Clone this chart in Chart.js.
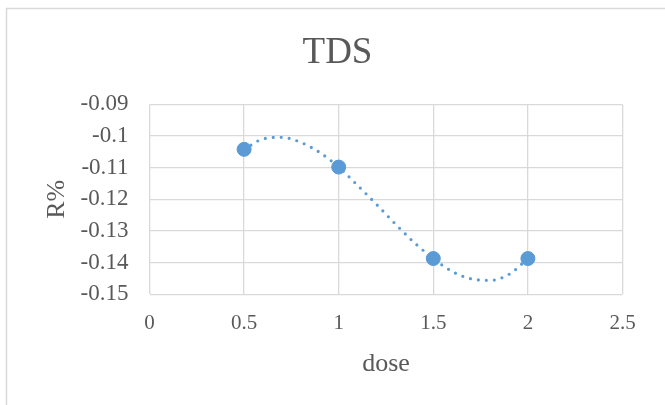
<!DOCTYPE html>
<html>
<head>
<meta charset="utf-8">
<script src="https://cdn.jsdelivr.net/npm/chart.js@4/dist/chart.umd.min.js"></script>
<style>
  html, body { margin: 0; padding: 0; background: #fff; }
  canvas { display: block; }
</style>
</head>
<body>
<canvas id="chart" width="665" height="405"></canvas>
<script>
// measured points
const doseValues = [0.5, 1, 1.5, 2];
const rValues = [-0.1042, -0.1098, -0.1387, -0.1387];

// dotted trend curve, read along its path
const trendDose = [0.5, 0.6, 0.7, 0.8, 0.9, 1.0, 1.1, 1.2, 1.3, 1.4, 1.5, 1.6, 1.7, 1.8, 1.9, 2.0];
const trendR = [-0.1042, -0.1009, -0.1004, -0.1020, -0.1052, -0.1098, -0.1156, -0.1216,
                -0.1278, -0.1337, -0.1387, -0.1428, -0.1451, -0.1456, -0.1437, -0.1387];

// axis ticks
const xTicks = [0, 0.5, 1, 1.5, 2, 2.5];
const yTicks = [-0.15, -0.14, -0.13, -0.12, -0.11, -0.1, -0.09];

const textColor = "#595959";
const gridColor = "#d9d9d9";
const blue = "#5b9bd5";
const serif = "'Liberation Serif', 'Times New Roman', serif";

// light frame around the whole chart
const framePlugin = {
  id: "frame",
  beforeDraw(chart) {
    const ctx = chart.ctx;
    ctx.save();
    ctx.fillStyle = "#fff";
    ctx.fillRect(0, 0, chart.width, chart.height);
    ctx.strokeStyle = gridColor;
    ctx.lineWidth = 1.5;
    ctx.beginPath();
    ctx.moveTo(6.5, chart.height + 2);
    ctx.lineTo(6.5, 8.5);
    ctx.lineTo(chart.width + 2, 8.5);
    ctx.stroke();
    ctx.restore();
  }
};

const chart = new Chart(document.getElementById("chart"), {
  type: "scatter",
  data: {
    datasets: [
      {
        label: "R%",
        data: doseValues.map((x, i) => ({ x: x, y: rValues[i] })),
        backgroundColor: blue,
        borderColor: blue,
        pointRadius: 7,
        pointHoverRadius: 7,
        order: 1
      },
      {
        label: "trend",
        data: trendDose.map((x, i) => ({ x: x, y: trendR[i] })),
        showLine: true,
        pointRadius: 0,
        borderColor: blue,
        borderWidth: 3.2,
        borderCapStyle: "round",
        borderDash: [0, 8],
        cubicInterpolationMode: "monotone",
        order: 2
      }
    ]
  },
  options: {
    responsive: false,
    animation: false,
    layout: { padding: { left: 10, right: 0, top: 0, bottom: 0 } },
    plugins: {
      legend: { display: false },
      tooltip: { enabled: false },
      title: {
        display: true,
        text: "TDS",
        color: textColor,
        font: { family: serif, size: 37, weight: "normal" },
        padding: { top: 31, bottom: 29 }
      }
    },
    scales: {
      x: {
        type: "linear",
        min: 0,
        max: 2.5,
        afterBuildTicks: s => { s.ticks = xTicks.map(v => ({ value: v })); },
        afterFit: s => { s.height = 110.7; },
        grid: { color: gridColor, lineWidth: 1.3, drawTicks: false },
        border: { display: false },
        ticks: {
          color: textColor,
          font: { family: serif, size: 21 },
          padding: 17,
          maxRotation: 0,
          callback: v => String(v)
        },
        title: {
          display: true,
          text: "dose",
          color: textColor,
          font: { family: serif, size: 26 },
          padding: { top: 0, bottom: 25 }
        }
      },
      y: {
        type: "linear",
        min: -0.15,
        max: -0.09,
        afterBuildTicks: s => { s.ticks = yTicks.map(v => ({ value: v })); },
        afterFit: s => { s.width = 139.5; },
        grid: { color: gridColor, lineWidth: 1.3, drawTicks: false },
        border: { display: false },
        ticks: {
          color: textColor,
          font: { family: serif, size: 23 },
          padding: 21,
          callback: v => String(v)
        },
        title: {
          display: true,
          text: "R%",
          color: textColor,
          font: { family: serif, size: 26 },
          padding: { top: 32, bottom: 0 }
        }
      },
      // empty right-hand strip so the plot stops short of the edge
      yRight: {
        type: "linear",
        position: "right",
        display: true,
        min: -0.15,
        max: -0.09,
        afterFit: s => { s.width = 42.5; },
        grid: { display: false },
        border: { display: false },
        ticks: { display: false }
      }
    }
  },
  plugins: [framePlugin]
});
</script>
</body>
</html>
